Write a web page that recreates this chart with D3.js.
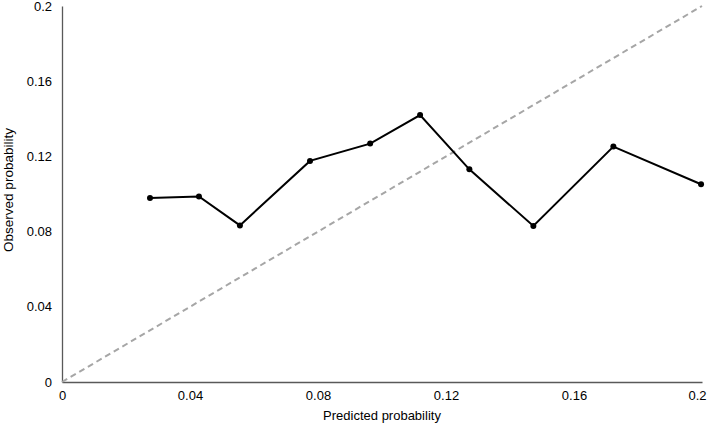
<!DOCTYPE html>
<html><head><meta charset="utf-8">
<script src="https://cdn.jsdelivr.net/npm/d3@7"></script>
<style>body{margin:0;background:#fff;} svg{display:block;font-family:"Liberation Sans",Arial,sans-serif;}</style>
</head><body>
<svg id="c" width="709" height="425"></svg>
<script>
const predicted = [0.0275, 0.0428, 0.0556, 0.0775, 0.0963, 0.1119, 0.1273, 0.1473, 0.1723, 0.1997];
const observed  = [0.0979, 0.0987, 0.0833, 0.1176, 0.1268, 0.1420, 0.1131, 0.0830, 0.1252, 0.1052];
const xTicks = [0, 0.04, 0.08, 0.12, 0.16, 0.2];
const yTicks = [0, 0.04, 0.08, 0.12, 0.16, 0.2];
const tickLabels = ["0", "0.04", "0.08", "0.12", "0.16", "0.2"];
const diagonal = [0, 0.2];

const svg = d3.select("#c");
const x = d3.scaleLinear().domain([0, 0.2]).range([62, 702]);
const y = d3.scaleLinear().domain([0, 0.2]).range([382, 6]);

// axes
const xAxis = d3.axisBottom(x).tickValues(xTicks).tickFormat((d,i)=>tickLabels[i]).tickSize(0).tickPadding(9);
const yAxis = d3.axisLeft(y).tickValues(yTicks).tickFormat((d,i)=>tickLabels[i]).tickSize(0).tickPadding(10);
const gx = svg.append("g").attr("transform", `translate(0,${y(0)})`).call(xAxis);
const gy = svg.append("g").attr("transform", `translate(${x(0)},0)`).call(yAxis);
[gx, gy].forEach(g => {
  g.select(".domain").attr("stroke", "#595959").attr("stroke-width", 1.3);
  g.selectAll("text").attr("fill", "#000").style("font-size", "13px");
});
gx.selectAll(".tick").filter(d => d === 0.2).select("text").attr("dx", -5);

// diagonal
svg.append("line")
  .attr("x1", x(diagonal[0])).attr("y1", y(diagonal[0]))
  .attr("x2", x(diagonal[1])).attr("y2", y(diagonal[1]))
  .attr("stroke", "#a6a6a6").attr("stroke-width", 2).attr("stroke-dasharray", "6,4");

const data = predicted.map((p, i) => ({p, o: observed[i]}));
svg.append("path").datum(data)
  .attr("fill", "none").attr("stroke", "#000").attr("stroke-width", 2)
  .attr("d", d3.line().x(d => x(d.p)).y(d => y(d.o)));
svg.selectAll("circle.pt").data(data).enter().append("circle")
  .attr("class", "pt").attr("cx", d => x(d.p)).attr("cy", d => y(d.o)).attr("r", 3).attr("fill", "#000");

// titles
svg.append("text").attr("x", (x(0)+x(0.2))/2).attr("y", 420).attr("text-anchor", "middle")
  .style("font-size", "13px").text("Predicted probability");
svg.append("text").attr("transform", `translate(13,190) rotate(-90)`).attr("text-anchor", "middle")
  .style("font-size", "13.5px").text("Observed probability");
</script>
</body></html>
